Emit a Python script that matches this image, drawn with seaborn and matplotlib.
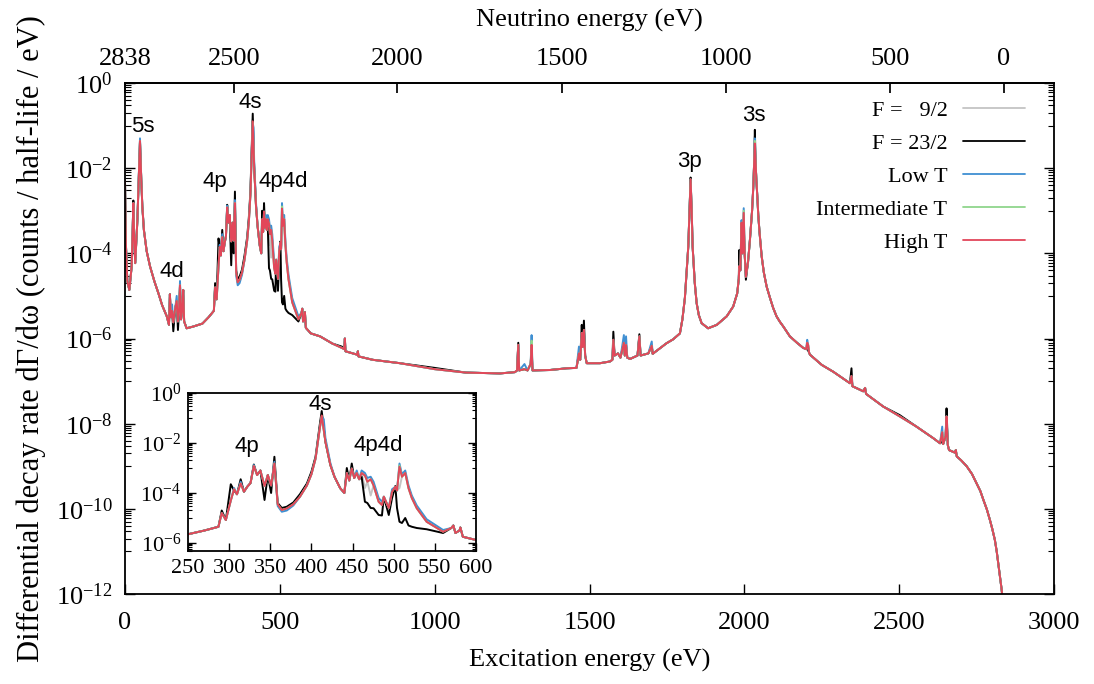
import numpy as np
import pandas as pd
import matplotlib
matplotlib.use("Agg")
import matplotlib.pyplot as plt
from matplotlib.lines import Line2D
from matplotlib.ticker import FixedLocator, NullFormatter, LogFormatterSciNotation
import seaborn as sns

# ---------------- data ----------------
energy_ev = [
    0, 3, 7.5, 14, 21.5, 25, 27, 29, 33, 40,
    45, 48.4, 52.6, 56, 61, 70, 81, 95, 108, 120,
    135, 142, 145, 148, 152, 156, 162, 167, 171, 175,
    177.6, 181, 185, 188, 191, 199, 220, 250, 270, 287,
    291, 296, 302, 306, 309.5, 314, 318, 322, 326, 330,
    334, 338, 343, 347, 351, 355, 359, 364, 370, 378,
    386, 394.5, 400, 405, 410, 412.5, 415, 417, 423, 428,
    435, 440, 443, 446, 449, 452, 455, 458, 461, 465,
    468, 472, 475.5, 481.7, 485.7, 488, 494, 498, 502, 504,
    507, 510, 514, 518, 522, 528, 540, 560, 570, 572.5,
    575, 580, 581, 584, 600, 630, 670, 700, 708, 710,
    712, 750, 752, 754, 800, 888, 1000, 1100, 1211, 1259,
    1266, 1270, 1273, 1290, 1300, 1310, 1313, 1316, 1372, 1426,
    1458, 1466, 1470, 1475, 1478, 1482, 1486, 1491, 1534, 1566,
    1574, 1577, 1581, 1592, 1600, 1611, 1614, 1618, 1622, 1631,
    1655, 1661, 1665, 1690, 1701, 1704, 1749, 1770, 1792, 1800,
    1808, 1814, 1819, 1823, 1825, 1826.5, 1828, 1830, 1833, 1840,
    1846, 1853, 1862, 1883, 1911, 1943, 1964, 1977, 1982, 1984,
    1987, 1991, 1994, 1998, 2001, 2005, 2012, 2018, 2025, 2029,
    2032, 2034, 2036, 2039, 2042, 2045, 2049, 2056, 2063, 2072,
    2083, 2093, 2104, 2115, 2126, 2147, 2170, 2190, 2200, 2203,
    2206, 2209, 2212, 2250, 2287, 2341, 2346, 2349, 2384, 2390,
    2393, 2449, 2502, 2556, 2610, 2632, 2639, 2642, 2650, 2653,
    2657, 2661, 2680, 2683, 2686, 2700, 2718, 2735, 2750, 2762,
    2772, 2783, 2793, 2801, 2809, 2815, 2820, 2824, 2828, 2831,
    2833, 2836, 2837.5,
]

# log10 of the decay rate, High T curve (red)
log_rate_high_t = [
    -2.30, -3.80, -4.65, -4.86, -4.31, -3.40, -2.82, -3.50, -4.23, -3.22,
    -2.12, -1.36, -2.28, -2.90, -3.45, -3.95, -4.31, -4.66, -4.94, -5.22,
    -5.48, -5.68, -4.96, -5.50, -5.35, -5.62, -5.30, -5.12, -5.60, -5.30,
    -4.75, -5.55, -5.30, -4.86, -5.60, -5.76, -5.72, -5.65, -5.50, -5.35,
    -4.80, -5.08, -4.30, -3.85, -4.05, -3.62, -3.95, -3.75, -3.60, -2.92,
    -3.28, -3.10, -3.72, -3.28, -3.70, -2.82, -4.45, -4.68, -4.62, -4.45,
    -4.15, -3.70, -3.25, -2.63, -1.45, -0.90, -1.50, -1.95, -2.88, -3.35,
    -3.81, -4.00, -3.20, -3.50, -3.02, -3.40, -3.20, -3.45, -3.20, -3.30,
    -3.55, -3.45, -3.70, -4.35, -4.48, -4.15, -4.60, -3.95, -3.75, -3.90,
    -2.95, -3.35, -3.20, -3.81, -4.20, -4.61, -5.15, -5.55, -5.40, -5.30,
    -5.60, -5.50, -5.38, -5.75, -5.88, -5.95, -6.12, -6.22, -6.25, -6.00,
    -6.30, -6.38, -6.30, -6.42, -6.50, -6.58, -6.72, -6.80, -6.82, -6.79,
    -6.75, -6.15, -6.75, -6.72, -6.75, -6.60, -6.15, -6.75, -6.74, -6.70,
    -6.69, -6.35, -6.50, -5.87, -6.20, -5.80, -6.40, -6.58, -6.58, -6.54,
    -6.50, -6.03, -6.40, -6.35, -6.45, -6.10, -6.40, -6.15, -6.45, -6.48,
    -6.40, -5.95, -6.40, -6.35, -6.17, -6.36, -6.11, -6.02, -5.88, -5.55,
    -5.05, -4.40, -3.84, -3.00, -2.60, -2.26, -2.60, -3.00, -3.84, -4.70,
    -5.17, -5.45, -5.64, -5.76, -5.68, -5.48, -5.25, -4.94, -4.60, -4.30,
    -4.40, -3.28, -4.00, -3.05, -4.00, -4.55, -4.20, -3.69, -3.00, -2.43,
    -1.80, -1.42, -1.80, -2.30, -2.67, -3.10, -3.50, -4.07, -4.45, -4.78,
    -5.05, -5.28, -5.48, -5.61, -5.72, -5.95, -6.10, -6.22, -6.25, -6.10,
    -6.15, -6.33, -6.38, -6.62, -6.78, -7.05, -6.88, -7.12, -7.24, -7.16,
    -7.30, -7.60, -7.83, -8.07, -8.34, -8.46, -8.20, -8.48, -8.30, -7.83,
    -8.50, -8.62, -8.68, -8.62, -8.77, -8.86, -9.00, -9.18, -9.40, -9.58,
    -9.79, -10.01, -10.26, -10.48, -10.73, -11.00, -11.28, -11.50, -11.74, -11.90,
    -12.05, -12.60, -13.50,
]

# points where the other curves differ from the High T curve  {energy: log10 rate}
diff_f23_2 = {
    27: -2.76, 156: -5.83, 171: -5.80, 291: -4.70, 302: -3.65, 306: -3.90,
    314: -3.45, 330: -2.86, 343: -4.28, 351: -4.00, 355: -2.55, 359: -4.40,
    364: -4.60, 370: -4.55, 378: -4.38, 386: -4.05, 394.5: -3.62, 400: -3.15,
    405: -2.55, 410: -1.30, 412.5: -0.72, 415: -1.40, 443: -3.00, 449: -2.82,
    461: -3.35, 465: -4.35, 468: -4.40, 472: -4.60, 475.5: -4.61, 481.7: -4.88,
    485.7: -4.90, 494: -4.88, 498: -4.20, 502: -3.72, 504: -4.60, 507: -5.15,
    510: -5.20, 514: -5.00, 518: -5.30, 522: -5.35, 528: -5.40, 540: -5.45,
    560: -5.60, 700: -6.19, 1000: -6.69, 1270: -6.10, 1313: -6.25,
    1475: -5.68, 1482: -5.58, 1577: -5.84, 1661: -5.90, 1826.5: -2.22,
    1984: -3.92, 1991: -3.50, 1998: -3.30, 2005: -4.62, 2034: -1.10,
    2203: -6.25, 2206: -6.28, 2346: -6.70, 2502: -7.80, 2639: -8.42,
    2653: -7.64,
}
diff_f9_2 = {
    412.5: -0.85, 465: -3.80, 472: -4.10, 507: -3.80, 2034: -1.25,
}
diff_low_t = {
    48.4: -1.30, 152: -5.20, 167: -5.00, 177.6: -4.65, 306: -3.80, 314: -3.55,
    330: -2.88, 355: -2.75, 359: -4.52, 364: -4.75, 370: -4.70, 378: -4.50,
    412.5: -0.95, 415: -1.05, 417: -1.80, 423: -2.80, 455: -3.10, 461: -3.10,
    465: -3.20, 468: -3.40, 472: -3.35, 475.5: -3.55, 481.7: -4.20,
    485.7: -4.35, 498: -3.85, 507: -2.82, 510: -3.25, 514: -3.10, 518: -3.70,
    522: -4.10, 528: -4.50, 540: -5.05, 560: -5.48, 1290: -6.60, 1313: -5.92,
    1466: -6.19, 1611: -5.92, 1618: -5.95, 1701: -6.07, 1991: -3.22,
    1998: -2.94, 2034: -1.30, 2203: -6.03, 2639: -8.07,
}
diff_mid_t = {
    412.5: -0.92, 507: -2.90, 1313: -6.05, 1998: -3.00, 2034: -1.36,
}

series_labels = ["F =   9/2", "F = 23/2", "Low T", "Intermediate T", "High T"]
series_colors = ["#c4c4c4", "#000000", "#3f8fd2", "#90d68c", "#e2475a"]

annot_main = [("5s", 57, -1.02), ("4d", 151, -4.43), ("4p", 291, -2.32),
              ("4s", 404, -0.46), ("4p4d", 511, -2.32), ("3p", 1824, -1.85),
              ("3s", 2031, -0.77)]
annot_inset = [("4p", 322, -2.15), ("4s", 411, -0.48), ("4p4d", 481, -2.11)]

neutrino_tick_labels = ["2838", "2500", "2000", "1500", "1000", "500", "0"]
neutrino_tick_pos_ev = [0, 352, 878, 1411, 1941, 2470, 2838]
excitation_ticks = [0, 500, 1000, 1500, 2000, 2500, 3000]
inset_ticks = [250, 300, 350, 400, 450, 500, 550, 600]


def with_diffs(diffs):
    vals = list(log_rate_high_t)
    for e, v in diffs.items():
        vals[energy_ev.index(e)] = v
    return vals


series_values = [with_diffs(diff_f9_2), with_diffs(diff_f23_2),
                 with_diffs(diff_low_t), with_diffs(diff_mid_t),
                 list(log_rate_high_t)]

frames = []
for lab, vals in zip(series_labels, series_values):
    frames.append(pd.DataFrame({"energy": energy_ev,
                                "rate": np.power(10.0, vals),
                                "series": lab}))
df = pd.concat(frames, ignore_index=True)
palette = dict(zip(series_labels, series_colors))

# ---------------- style ----------------
sns.set_theme(style="ticks")
plt.rcParams.update({
    "font.family": ["Liberation Serif", "DejaVu Serif"],
    "mathtext.fontset": "custom",
    "mathtext.rm": "Liberation Serif",
    "mathtext.it": "Liberation Serif:italic",
    "mathtext.bf": "Liberation Serif:bold",
    "axes.linewidth": 1.3,
    "axes.edgecolor": "black",
    "xtick.direction": "in",
    "ytick.direction": "in",
    "xtick.color": "black",
    "ytick.color": "black",
    "text.color": "black",
    "axes.labelcolor": "black",
})

fig = plt.figure(figsize=(10.94, 6.84), dpi=100)
ax = fig.add_axes([125 / 1094, 1 - 594 / 684, 929 / 1094, 511 / 684])

sns.lineplot(data=df, x="energy", y="rate", hue="series", hue_order=series_labels,
             palette=palette, estimator=None, sort=False, lw=1.4, legend=False, ax=ax)
ax.set_yscale("log")
ax.set_xlim(0, 3000)
ax.set_ylim(1e-12, 1e0)

major_main = [10.0 ** d for d in range(-12, 1, 2)]
minor_main = [k * 10.0 ** d for d in range(-13, 0, 2) for k in range(1, 10)]
ax.yaxis.set_major_locator(FixedLocator(major_main))
ax.yaxis.set_minor_locator(FixedLocator(minor_main))
ax.yaxis.set_major_formatter(LogFormatterSciNotation())
ax.yaxis.set_minor_formatter(NullFormatter())
ax.set_xticks(excitation_ticks)
ax.xaxis.set_minor_locator(FixedLocator([]))
ax.tick_params(axis="both", which="major", labelsize=19, length=7, width=1.0,
               color="black")
ax.tick_params(axis="y", which="both", left=True, right=True)
ax.tick_params(axis="y", which="minor", length=4, width=0.8)
ax.tick_params(axis="x", which="both", top=False, bottom=True, pad=13)
ax.tick_params(axis="y", which="major", pad=9)
ax.set_xlabel("Excitation energy (eV)", fontsize=19, labelpad=11)
ax.set_ylabel("Differential decay rate d\u0393/d\u03c9 (counts / half-life / eV)",
              fontsize=22, labelpad=7)

secax = ax.secondary_xaxis("top")
secax.set_xticks(neutrino_tick_pos_ev, neutrino_tick_labels)
secax.tick_params(axis="x", which="major", direction="in", length=7, labelsize=19,
                  pad=9)
secax.xaxis.set_minor_locator(FixedLocator([]))
secax.set_xlabel("Neutrino energy (eV)", fontsize=19, labelpad=16)

for txt, e, lv in annot_main:
    ax.text(e, 10.0 ** lv, txt, fontsize=16, ha="center", va="center",
            family=["Liberation Sans", "DejaVu Sans"])

handles = [Line2D([0], [0], color=c, lw=1.3) for c in series_colors]
ax.legend(handles, series_labels, loc="upper right", bbox_to_anchor=(0.969, 0.966),
          frameon=False, markerfirst=False, fontsize=16, handlelength=2.8,
          handletextpad=0.7, labelspacing=0.56, borderpad=0, borderaxespad=0)

# ---------------- inset ----------------
axin = fig.add_axes([188 / 1094, 1 - 551 / 684, 288 / 1094, 158 / 684])
axin.set_facecolor("white")
sns.lineplot(data=df, x="energy", y="rate", hue="series", hue_order=series_labels,
             palette=palette, estimator=None, sort=False, lw=1.4, legend=False, ax=axin)
axin.set_yscale("log")
axin.set_xlim(250, 600)
axin.set_ylim(10 ** -6.32, 1e0)
axin.yaxis.set_major_locator(FixedLocator([1e-6, 1e-4, 1e-2, 1e0]))
axin.yaxis.set_minor_locator(FixedLocator(
    [k * 10.0 ** d for d in range(-7, 0, 2) for k in range(1, 10)]))
axin.yaxis.set_major_formatter(LogFormatterSciNotation())
axin.yaxis.set_minor_formatter(NullFormatter())
axin.set_xticks(inset_ticks)
axin.xaxis.set_minor_locator(FixedLocator([]))
axin.tick_params(axis="both", which="major", labelsize=16, length=6, width=1.0)
axin.tick_params(axis="y", which="both", left=True, right=True, pad=5)
axin.tick_params(axis="y", which="minor", length=3, width=0.8)
axin.tick_params(axis="x", which="both", top=False, bottom=True, pad=6)
axin.set_xlabel("")
axin.set_ylabel("")
for s in axin.spines.values():
    s.set_linewidth(1.3)
for txt, e, lv in annot_inset:
    axin.text(e, 10.0 ** lv, txt, fontsize=16, ha="center", va="center",
              family=["Liberation Sans", "DejaVu Sans"])

fig.savefig("out.png", dpi=100)
